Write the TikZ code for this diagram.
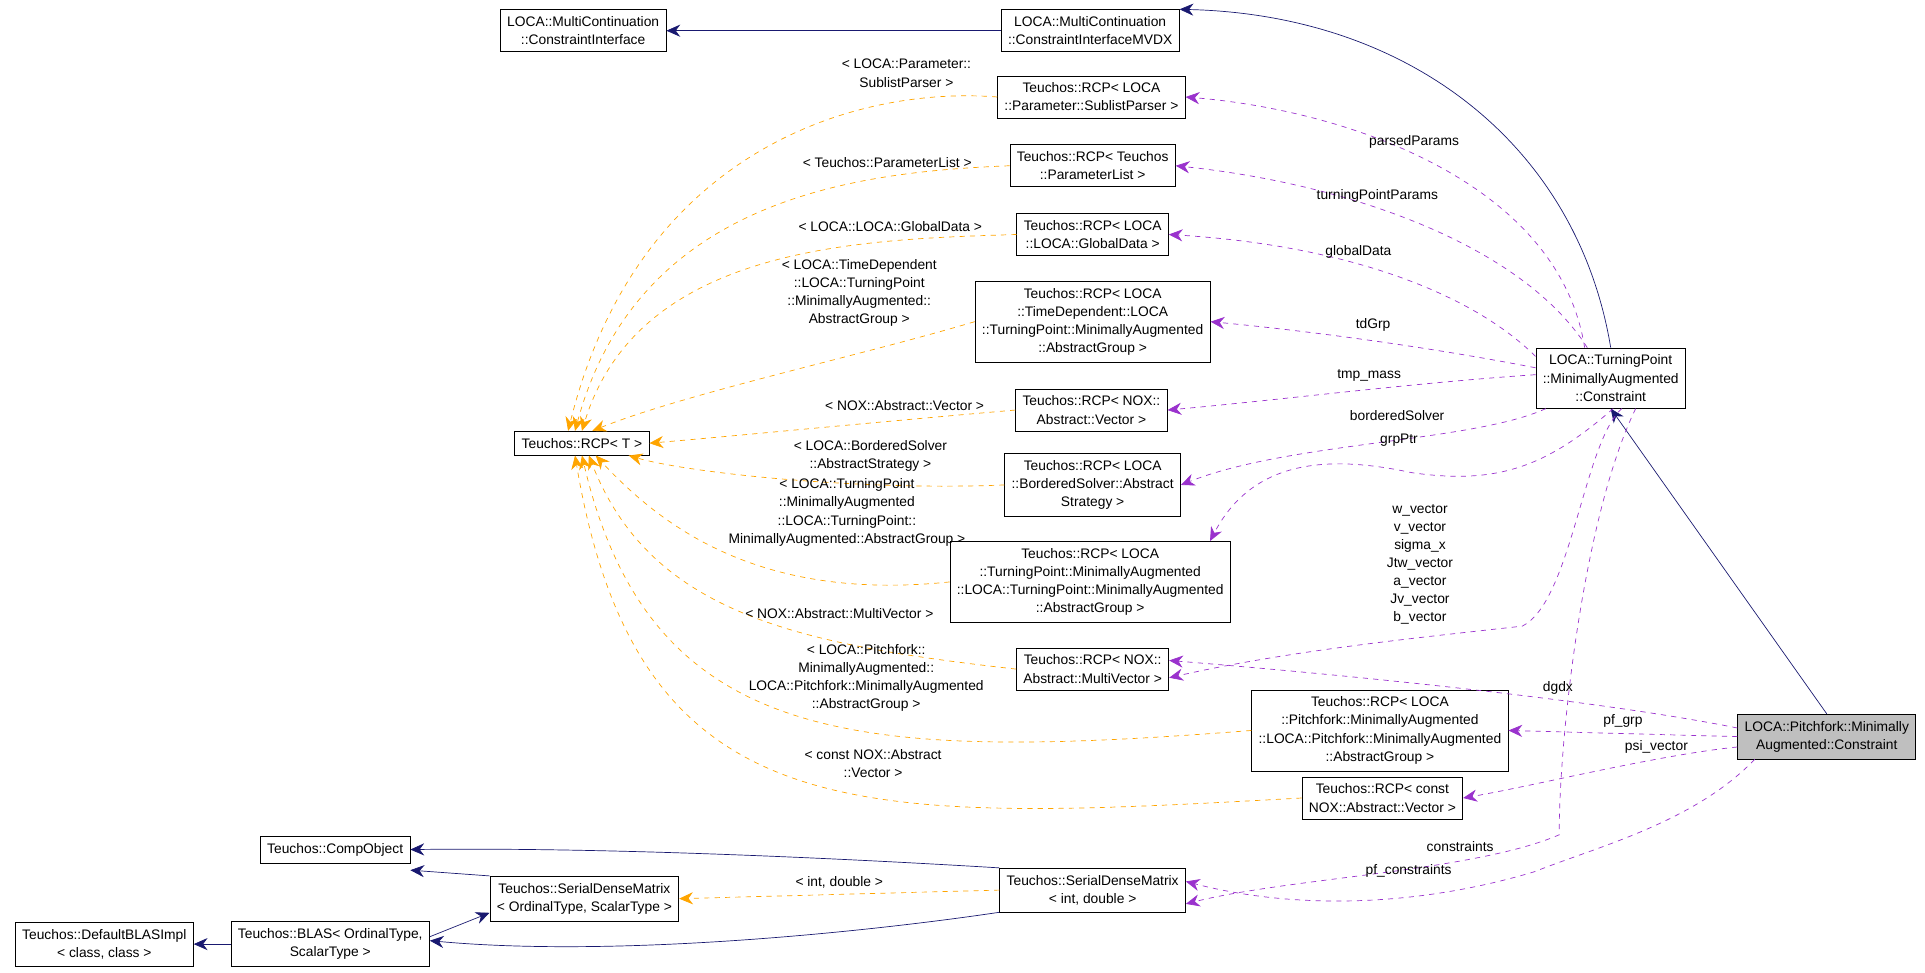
\documentclass[tikz,border=0pt]{standalone}
\usepackage{fontspec}
\setmainfont{Liberation Sans}
\usetikzlibrary{arrows.meta}
\definecolor{edgeblue}{HTML}{191970}
\definecolor{edgepurple}{HTML}{9A32CD}
\definecolor{edgeorange}{HTML}{FFA500}
\tikzset{
  cls/.style={draw, fill=white, align=center, inner xsep=4pt, inner ysep=4pt, font=\fontsize{8}{10.5}\selectfont},
  lbl/.style={align=center, font=\fontsize{8}{10.5}\selectfont},
  inh/.style={draw=edgeblue, -{Stealth[length=8pt,width=7pt]}},
  use/.style={draw=edgepurple, dashed, -{Stealth[length=8pt,width=7pt]}},
  tmpl/.style={draw=edgeorange, dashed, -{Stealth[length=8pt,width=7pt]}},
}
\begin{document}
\begin{tikzpicture}[x=0.025cm,y=-0.025cm]
  \useasboundingbox[fill=white] (0,0) rectangle (1568,792);
  % classes
  \node[cls] (ci) at (475,25) {LOCA::MultiContinuation\\::ConstraintInterface};
  \node[cls] (mvdx) at (888,25) {LOCA::MultiContinuation\\::ConstraintInterfaceMVDX};
  \node[cls] (subpar) at (889,79) {Teuchos::RCP< LOCA\\::Parameter::SublistParser >};
  \node[cls] (plist) at (890,135) {Teuchos::RCP< Teuchos\\::ParameterList >};
  \node[cls] (gdata) at (890,191) {Teuchos::RCP< LOCA\\::LOCA::GlobalData >};
  \node[cls] (tdgrp) at (890,262) {Teuchos::RCP< LOCA\\::TimeDependent::LOCA\\::TurningPoint::MinimallyAugmented\\::AbstractGroup >};
  \node[cls] (nvec) at (889,334) {Teuchos::RCP< NOX::\\Abstract::Vector >};
  \node[cls] (rcp) at (474,361) {Teuchos::RCP< T >};
  \node[cls] (bsolv) at (890,395) {Teuchos::RCP< LOCA\\::BorderedSolver::Abstract\\Strategy >};
  \node[cls] (tpgrp) at (888,474) {Teuchos::RCP< LOCA\\::TurningPoint::MinimallyAugmented\\::LOCA::TurningPoint::MinimallyAugmented\\::AbstractGroup >};
  \node[cls] (mvec) at (890,545) {Teuchos::RCP< NOX::\\Abstract::MultiVector >};
  \node[cls] (pfgrp) at (1124,595) {Teuchos::RCP< LOCA\\::Pitchfork::MinimallyAugmented\\::LOCA::Pitchfork::MinimallyAugmented\\::AbstractGroup >};
  \node[cls] (cnvec) at (1126,650) {Teuchos::RCP< const\\NOX::Abstract::Vector >};
  \node[cls] (sdm) at (890,725) {Teuchos::SerialDenseMatrix\\< int, double >};
  \node[cls] (tpc) at (1312,308) {LOCA::TurningPoint\\::MinimallyAugmented\\::Constraint};
  \node[cls, fill=black!25] (pfc) at (1488,600) {LOCA::Pitchfork::Minimally\\Augmented::Constraint};
  \node[cls] (comp) at (273,692) {Teuchos::CompObject};
  \node[cls] (sdmot) at (476,732) {Teuchos::SerialDenseMatrix\\< OrdinalType, ScalarType >};
  \node[cls] (blas) at (269,769) {Teuchos::BLAS< OrdinalType,\\ScalarType >};
  \node[cls] (dblas) at (85,769) {Teuchos::DefaultBLASImpl\\< class, class >};
  % inheritance
  \draw[inh] (mvdx) -- (ci);
  \draw[inh] (tpc.north) .. controls (1285,120) and (1150,12) .. (mvdx.north east);
  \draw[inh] (pfc.north) -- (tpc.south);
  \draw[inh] (sdm.north west) .. controls (700,700) and (500,690) .. (comp.east);
  \draw[inh] (sdmot.north west) -- ([yshift=-4]comp.south east);
  \draw[inh] (blas.east) ++(0,-6) -- ([yshift=5]sdmot.south west);
  \draw[inh] (sdm.south west) .. controls (700,760) and (500,780) .. ([yshift=2]blas.east);
  \draw[inh] (blas) -- (dblas);
  % template arguments
  \draw[tmpl] (subpar.west) .. controls (700,70) and (520,120) .. node[lbl, pos=0.2, above=4pt] {< LOCA::Parameter::\\SublistParser >} ([xshift=-8]rcp.north);
  \draw[tmpl] (plist.west) .. controls (700,140) and (520,160) .. node[lbl, pos=0.25, above=2pt] {< Teuchos::ParameterList >} ([xshift=-4]rcp.north);
  \draw[tmpl] (gdata.west) .. controls (700,195) and (520,200) .. node[lbl, pos=0.25, above=2pt] {< LOCA::LOCA::GlobalData >} (rcp.north);
  \draw[tmpl] (tdgrp.west) .. controls (700,290) and (560,320) .. node[lbl, pos=0.3, above=12pt] {< LOCA::TimeDependent\\::LOCA::TurningPoint\\::MinimallyAugmented::\\AbstractGroup >} ([xshift=6]rcp.north);
  \draw[tmpl] (nvec.west) .. controls (700,345) and (600,355) .. node[lbl, pos=0.25, above=2pt] {< NOX::Abstract::Vector >} (rcp.east);
  \draw[tmpl] (bsolv.west) .. controls (700,400) and (560,385) .. node[lbl, pos=0.3, above=4pt] {< LOCA::BorderedSolver\\::AbstractStrategy >} ([xshift=-12]rcp.south east);
  \draw[tmpl] (tpgrp.west) .. controls (620,490) and (540,430) .. node[lbl, pos=0.2, above=18pt] {< LOCA::TurningPoint\\::MinimallyAugmented\\::LOCA::TurningPoint::\\MinimallyAugmented::AbstractGroup >} ([xshift=8]rcp.south);
  \draw[tmpl] (mvec.west) .. controls (650,525) and (530,500) .. node[lbl, pos=0.3, above=10pt] {< NOX::Abstract::MultiVector >} ([xshift=4]rcp.south);
  \draw[tmpl] (pfgrp.west) .. controls (700,620) and (530,610) .. node[lbl, pos=0.4, above=8pt] {< LOCA::Pitchfork::\\MinimallyAugmented::\\LOCA::Pitchfork::MinimallyAugmented\\::AbstractGroup >} (rcp.south);
  \draw[tmpl] (cnvec.west) .. controls (700,670) and (520,680) .. node[lbl, pos=0.4, above=8pt] {< const NOX::Abstract\\::Vector >} ([xshift=-4]rcp.south);
  \draw[tmpl] (sdm.west) -- node[lbl, above] {< int, double >} (sdmot.east);
  % members
  \draw[use] (tpc.north west) ++(40,0) .. controls (1270,150) and (1100,90) .. node[lbl, pos=0.55, above] {parsedParams} (subpar.east);
  \draw[use] ([xshift=30]tpc.north west) .. controls (1240,200) and (1100,150) .. node[lbl, pos=0.6, above] {turningPointParams} (plist.east);
  \draw[use] ([yshift=-5]tpc.north west) .. controls (1200,240) and (1100,200) .. node[lbl, pos=0.6, above] {globalData} (gdata.east);
  \draw[use] ([yshift=6]tpc.west) .. controls (1150,280) and (1050,268) .. node[lbl, pos=0.45, above=2pt] {tdGrp} (tdgrp.east);
  \draw[use] ([yshift=2]tpc.west) .. controls (1150,312) and (1050,325) .. node[lbl, pos=0.45, above=1pt] {tmp\_mass} (nvec.east);
  \draw[use] ([xshift=6]tpc.south west) .. controls (1200,360) and (1050,360) .. node[lbl, pos=0.45, above=8pt] {borderedSolver} (bsolv.east);
  \draw[use] ([xshift=45]tpc.south west) .. controls (1260,380) and (1220,395) .. (1150,385) .. controls (1080,370) and (1020,375) .. node[lbl, pos=0.05, above=10pt] {grpPtr} ([xshift=-12]tpgrp.north east);
  \draw[use] ([xshift=50]tpc.south west) .. controls (1290,360) and (1280,490) .. (1240,510) .. controls (1150,520) and (1050,530) .. node[lbl, pos=0.3, above=4pt] {w\_vector\\v\_vector\\sigma\_x\\Jtw\_vector\\a\_vector\\Jv\_vector\\b\_vector} ([yshift=-5]mvec.east);
  \draw[use] ([xshift=58]tpc.south west) .. controls (1290,420) and (1270,600) .. (1270,680) .. controls (1200,710) and (1050,715) .. node[lbl, pos=0.3, above=2pt] {constraints} ([yshift=-8]sdm.east);
  \draw[use] ([yshift=5]pfc.west) .. controls (1300,570) and (1100,550) .. node[lbl, pos=0.35, above] {dgdx} ([yshift=5]mvec.east);
  \draw[use] (pfc.west) -- node[lbl, above] {pf\_grp} (pfgrp.east);
  \draw[use] ([yshift=-6]pfc.west) .. controls (1350,615) and (1250,640) .. node[lbl, pos=0.3, above] {psi\_vector} (cnvec.east);
  \draw[use] ([xshift=10]pfc.south west) .. controls (1380,670) and (1300,690) .. (1250,710) .. controls (1150,740) and (1050,740) .. node[lbl, pos=0.95, above=1pt, xshift=120] {pf\_constraints} ([yshift=5]sdm.east);
\end{tikzpicture}
\end{document}
